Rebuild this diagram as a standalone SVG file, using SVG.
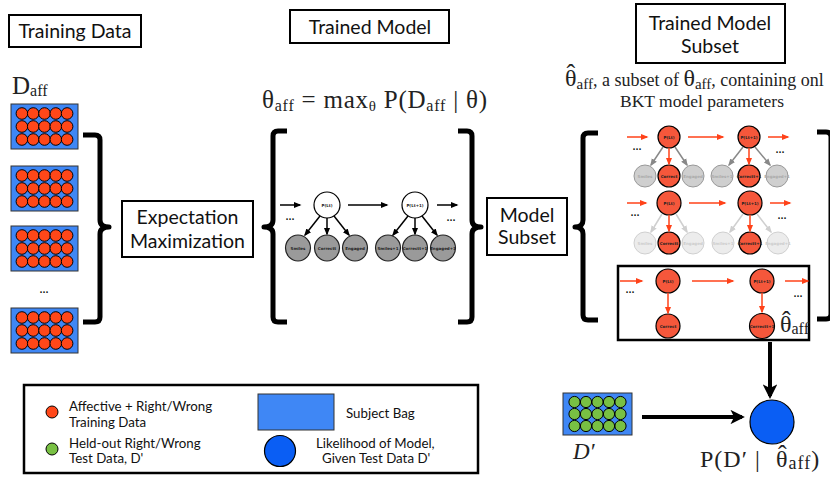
<svg xmlns="http://www.w3.org/2000/svg" width="830" height="478" viewBox="0 0 830 478">
<defs>
<style>
.sans{font-family:Lato,"Open Sans","DejaVu Sans",sans-serif;fill:#111}
.serif{font-family:"Liberation Serif","DejaVu Serif",serif;fill:#222}
.box{fill:#fff;stroke:#000;stroke-width:2}
.brace{fill:none;stroke:#000;stroke-width:5;stroke-linejoin:round}
.bag{fill:#3f87f5;stroke:#333;stroke-width:1}
.rc{fill:#ff4719;stroke:#000;stroke-width:1}
.gc{fill:#78c043;stroke:#000;stroke-width:1}
.rn{fill:#f5573b;stroke:#000;stroke-width:1.2}
.wn{fill:#fff;stroke:#000;stroke-width:1.2}
.gn{fill:#9a9a9a;stroke:#222;stroke-width:1.2}
.g1{fill:#cfcfcf;stroke:#999;stroke-width:1}
.g2{fill:#ececec;stroke:#d0d0d0;stroke-width:1}
.ka{stroke:#000;stroke-width:1.5;fill:none;marker-end:url(#mk)}
.ra{stroke:#ff4219;stroke-width:1.5;fill:none;marker-end:url(#mr)}
.ga{stroke:#888;stroke-width:1.5;fill:none;marker-end:url(#mg)}
.la{stroke:#cfcfcf;stroke-width:1.5;fill:none;marker-end:url(#ml)}
.big{stroke:#000;stroke-width:4;fill:none;marker-end:url(#mK)}
.tiny{font-family:"DejaVu Sans",sans-serif;font-size:4px;font-weight:bold;text-anchor:middle;fill:#222}
.tg{fill:#aaa}
.tl{fill:#ccc}
.dots{font-family:"DejaVu Sans",sans-serif;font-size:8px;font-weight:bold;text-anchor:middle;fill:#111}
.h{font-size:19.5px;text-anchor:middle}
</style>
<marker id="mk" viewBox="0 0 10 10" refX="8" refY="5" markerWidth="5" markerHeight="5" orient="auto"><path d="M0,1 L10,5 L0,9z" fill="#000"/></marker>
<marker id="mr" viewBox="0 0 10 10" refX="8" refY="5" markerWidth="5" markerHeight="5" orient="auto"><path d="M0,1 L10,5 L0,9z" fill="#ff4219"/></marker>
<marker id="mg" viewBox="0 0 10 10" refX="8" refY="5" markerWidth="5" markerHeight="5" orient="auto"><path d="M0,1 L10,5 L0,9z" fill="#888"/></marker>
<marker id="ml" viewBox="0 0 10 10" refX="8" refY="5" markerWidth="5" markerHeight="5" orient="auto"><path d="M0,1 L10,5 L0,9z" fill="#cfcfcf"/></marker>
<marker id="mK" viewBox="0 0 10 10" refX="8" refY="5" markerWidth="3.6" markerHeight="3.6" orient="auto"><path d="M0,0 L10,5 L0,10 L2.5,5z" fill="#000"/></marker>
<g id="bagR">
<rect class="bag" width="67" height="45"/>
<g class="rc">
<circle cx="10.9" cy="9.5" r="5.8"/><circle cx="22.2" cy="9.5" r="5.8"/><circle cx="33.5" cy="9.5" r="5.8"/><circle cx="44.8" cy="9.5" r="5.8"/><circle cx="56.1" cy="9.5" r="5.8"/>
<circle cx="10.9" cy="22.5" r="5.8"/><circle cx="22.2" cy="22.5" r="5.8"/><circle cx="33.5" cy="22.5" r="5.8"/><circle cx="44.8" cy="22.5" r="5.8"/><circle cx="56.1" cy="22.5" r="5.8"/>
<circle cx="10.9" cy="35.5" r="5.8"/><circle cx="22.2" cy="35.5" r="5.8"/><circle cx="33.5" cy="35.5" r="5.8"/><circle cx="44.8" cy="35.5" r="5.8"/><circle cx="56.1" cy="35.5" r="5.8"/>
</g>
</g>
</defs>
<rect width="830" height="478" fill="#fff"/>

<!-- Titles -->
<g id="title-training">
<rect class="box" x="9" y="15" width="132" height="32"/>
<text class="sans h" x="75" y="37.5">Training Data</text>
</g>
<g id="title-trained">
<rect class="box" x="290" y="10" width="159" height="33"/>
<text class="sans h" x="370" y="34">Trained Model</text>
</g>
<g id="title-subset">
<rect class="box" x="636" y="4" width="149" height="59"/>
<text class="sans h" x="710" y="30">Trained Model</text>
<text class="sans h" x="710" y="53">Subset</text>
</g>

<!-- Training data -->
<g id="daff">
<text class="serif" x="12" y="94" font-size="25">D<tspan font-size="16" dy="2">aff</tspan></text>
<use href="#bagR" x="11" y="104"/>
<use href="#bagR" x="11" y="166"/>
<use href="#bagR" x="11" y="226"/>
<text class="dots" x="44" y="293" font-size="11">...</text>
<use href="#bagR" x="11" y="308"/>
</g>

<!-- Braces -->
<g id="braces">
<path class="brace" d="M83,135 H95 Q100,135 100,140 V220 Q100,227 109,227 Q100,227 100,234 V317 Q100,322 95,322 H83"/>
<path class="brace" d="M287,131 H278 Q273,131 273,136 V220 Q273,227 264,227 Q273,227 273,234 V317 Q273,322 278,322 H287"/>
<path class="brace" d="M458,131 H467 Q472,131 472,136 V220 Q472,227 481,227 Q472,227 472,234 V317 Q472,322 467,322 H458"/>
<path class="brace" d="M598,133 H588 Q583,133 583,138 V220 Q583,227 575,227 Q583,227 583,234 V315 Q583,320 588,320 H598"/>
<path class="brace" d="M817,132 H826 Q831,132 831,137 V314 Q831,319 826,319 H817"/>
</g>

<g id="em">
<rect class="box" x="122" y="201" width="131" height="56"/>
<text class="sans h" x="187.5" y="223.5">Expectation</text>
<text class="sans h" x="187.5" y="248">Maximization</text>
</g>

<g id="formula">
<text class="serif" x="262" y="108" font-size="25" textLength="225" lengthAdjust="spacing">θ<tspan font-size="16" dy="3">aff</tspan><tspan dy="-3"> = max</tspan><tspan font-size="15" dy="3">θ</tspan><tspan dy="-3"> P(D</tspan><tspan font-size="16" dy="3">aff</tspan><tspan dy="-3"> | θ)</tspan></text>
</g>

<!-- Middle full model -->
<g id="full-model">
<g id="fm-t"><circle class="wn" cx="327" cy="205" r="13"/><text class="tiny" x="327" y="206.5">P(Lt)</text></g>
<g id="fm-t1"><circle class="wn" cx="415" cy="205" r="13"/><text class="tiny" x="415" y="206.5">P(Lt+1)</text></g>
<g id="fm-b">
<ellipse class="gn" cx="298" cy="248" rx="12.5" ry="13"/><text class="tiny" x="298" y="249.5">Smiles</text>
<ellipse class="gn" cx="327" cy="248" rx="12.5" ry="13"/><text class="tiny" x="327" y="249.5">Correctt</text>
<ellipse class="gn" cx="355" cy="248" rx="12.5" ry="13"/><text class="tiny" x="355" y="249.5">Engaged</text>
<ellipse class="gn" cx="388" cy="248" rx="12.5" ry="13"/><text class="tiny" x="388" y="249.5">Smiles+1</text>
<ellipse class="gn" cx="415" cy="248" rx="12.5" ry="13"/><text class="tiny" x="415" y="249.5">Correctt+1</text>
<ellipse class="gn" cx="443" cy="248" rx="12.5" ry="13"/><text class="tiny" x="443" y="249.5">Engaged+1</text>
</g>
<text class="dots" x="290" y="220">...</text>
<text class="dots" x="451" y="221">...</text>
</g>

<g id="model-subset">
<rect class="box" x="487" y="198" width="80" height="57"/>
<text class="sans h" x="527" y="221.5">Model</text>
<text class="sans h" x="527" y="243.5">Subset</text>
</g>

<!-- Subtitle -->
<g id="subtitle">
<text class="serif" font-size="24"><tspan x="566.5" y="82" font-size="26">ˆ</tspan><tspan x="565" y="86">θ</tspan><tspan font-size="15" dy="3">aff</tspan><tspan font-size="18" dy="-3">, a subset of </tspan><tspan>θ</tspan><tspan font-size="15" dy="3">aff</tspan><tspan font-size="18" dy="-3">, containing onl</tspan></text>
<text class="serif" x="702" y="107" font-size="17.5" text-anchor="middle">BKT model parameters</text>
</g>

<!-- Right subset rows -->
<g id="row1">
<circle class="rn" cx="669" cy="137" r="11"/><text class="tiny" x="669" y="138.5">P(Lt)</text>
<circle class="rn" cx="749" cy="137" r="11"/><text class="tiny" x="749" y="138.5">P(Lt+1)</text>
<ellipse class="g1" cx="645" cy="176" rx="11" ry="11"/><text class="tiny tg" x="645" y="177.5">Smiles</text>
<circle class="rn" cx="669" cy="176" r="11"/><text class="tiny" x="669" y="177.5">Correct</text>
<ellipse class="g1" cx="693" cy="176" rx="11" ry="11"/><text class="tiny tg" x="693" y="177.5">Engaged</text>
<ellipse class="g1" cx="722" cy="176" rx="11" ry="11"/><text class="tiny tg" x="722" y="177.5">Smiles+1</text>
<circle class="rn" cx="749" cy="176" r="11"/><text class="tiny" x="749" y="177.5">Correctt+1</text>
<ellipse class="g1" cx="777" cy="176" rx="11" ry="11"/><text class="tiny tg" x="777" y="177.5">Engaged+1</text>
<text class="dots" x="637" y="150">...</text>
<text class="dots" x="780" y="153">...</text>
</g>
<g id="row2">
<circle class="rn" cx="669" cy="203" r="12"/><text class="tiny" x="669" y="204.5">P(Lt)</text>
<circle class="rn" cx="750" cy="203" r="12"/><text class="tiny" x="750" y="204.5">P(Lt+1)</text>
<ellipse class="g2" cx="645" cy="243" rx="11" ry="11"/><text class="tiny tl" x="645" y="244.5">Smiles</text>
<circle class="rn" cx="669" cy="243" r="11"/><text class="tiny" x="669" y="244.5">Correctt</text>
<ellipse class="g2" cx="693" cy="243" rx="11" ry="11"/><text class="tiny tl" x="693" y="244.5">Engaged</text>
<ellipse class="g2" cx="723" cy="243" rx="11" ry="11"/><text class="tiny tl" x="723" y="244.5">Smiles+1</text>
<circle class="rn" cx="750" cy="243" r="11"/><text class="tiny" x="750" y="244.5">Correctt+1</text>
<ellipse class="g2" cx="778" cy="243" rx="11" ry="11"/><text class="tiny tl" x="778" y="244.5">Engaged+1</text>
<text class="dots" x="635" y="216">...</text>
<text class="dots" x="782" y="219">...</text>
</g>
<g id="row3">
<rect x="618" y="266" width="191" height="74" fill="none" stroke="#000" stroke-width="2.5"/>
<circle class="rn" cx="668" cy="281" r="12"/><text class="tiny" x="668" y="282.5">P(Lt)</text>
<circle class="rn" cx="762" cy="281" r="12"/><text class="tiny" x="762" y="282.5">P(Lt+1)</text>
<circle class="rn" cx="668" cy="326" r="12"/><text class="tiny" x="668" y="327.5">Correct</text>
<circle class="rn" cx="762" cy="326" r="12.5"/><text class="tiny" x="762" y="327.5">Correctt+1</text>
<text class="dots" x="630" y="293">...</text>
<text class="dots" x="798" y="297">...</text>
<text class="serif" font-size="24"><tspan x="782" y="329" font-size="26">ˆ</tspan><tspan x="780" y="332">θ</tspan><tspan font-size="16" dy="2">aff</tspan></text>
</g>

<!-- Test data & likelihood -->
<g id="dprime">
<rect class="bag" x="563" y="393" width="69" height="42"/>
<g class="gc">
<circle cx="574.5" cy="402" r="5.6"/><circle cx="586" cy="402" r="5.6"/><circle cx="597.5" cy="402" r="5.6"/><circle cx="609" cy="402" r="5.6"/><circle cx="620.5" cy="402" r="5.6"/>
<circle cx="574.5" cy="414" r="5.6"/><circle cx="586" cy="414" r="5.6"/><circle cx="597.5" cy="414" r="5.6"/><circle cx="609" cy="414" r="5.6"/><circle cx="620.5" cy="414" r="5.6"/>
<circle cx="574.5" cy="426" r="5.6"/><circle cx="586" cy="426" r="5.6"/><circle cx="597.5" cy="426" r="5.6"/><circle cx="609" cy="426" r="5.6"/><circle cx="620.5" cy="426" r="5.6"/>
</g>
<text class="serif" x="573" y="459" font-size="23" font-style="italic">D′</text>
</g>
<g id="likelihood">
<circle cx="772" cy="422" r="22" fill="#0a5ef4" stroke="#000" stroke-width="1.2"/>
<text class="serif" font-size="24" letter-spacing="1"><tspan x="700" y="467">P(D′ |</tspan><tspan x="778" y="463" font-size="26">ˆ</tspan><tspan x="776" y="467">θ</tspan><tspan font-size="18" dy="2">aff</tspan><tspan dy="-2">)</tspan></text>
</g>

<!-- Connectors -->
<g id="connectors">
<line class="ka" x1="280" y1="205" x2="300" y2="205"/>
<line class="ka" x1="348" y1="205" x2="387" y2="205"/>
<line class="ka" x1="437" y1="205" x2="457" y2="205"/>
<line class="ka" x1="320" y1="216" x2="305" y2="235"/>
<line class="ka" x1="327" y1="218" x2="327" y2="234"/>
<line class="ka" x1="334" y1="216" x2="349" y2="235"/>
<line class="ka" x1="408" y1="216" x2="393" y2="235"/>
<line class="ka" x1="415" y1="218" x2="415" y2="234"/>
<line class="ka" x1="422" y1="216" x2="437" y2="235"/>

<line class="ra" x1="627" y1="137" x2="647" y2="137"/>
<line class="ra" x1="688" y1="137" x2="723" y2="137"/>
<line class="ra" x1="768" y1="137" x2="788" y2="137"/>
<line class="ga" x1="663" y1="147" x2="651" y2="165"/>
<line class="ra" x1="669" y1="148" x2="669" y2="164"/>
<line class="ga" x1="675" y1="147" x2="687" y2="165"/>
<line class="ga" x1="743" y1="147" x2="729" y2="165"/>
<line class="ra" x1="749" y1="148" x2="749" y2="164"/>
<line class="ga" x1="755" y1="147" x2="770" y2="165"/>

<line class="ra" x1="627" y1="203" x2="646" y2="203"/>
<line class="ra" x1="689" y1="203" x2="725" y2="203"/>
<line class="ra" x1="770" y1="203" x2="790" y2="203"/>
<line class="la" x1="662" y1="214" x2="651" y2="232"/>
<line class="ra" x1="669" y1="215" x2="669" y2="231"/>
<line class="la" x1="676" y1="214" x2="687" y2="232"/>
<line class="la" x1="743" y1="214" x2="730" y2="232"/>
<line class="ra" x1="750" y1="215" x2="750" y2="231"/>
<line class="la" x1="757" y1="214" x2="771" y2="232"/>

<line class="ra" x1="620" y1="281" x2="642" y2="281"/>
<line class="ra" x1="692" y1="281" x2="733" y2="281"/>
<line class="ra" x1="785" y1="281" x2="808" y2="281"/>
<line class="ra" x1="668" y1="293" x2="668" y2="313"/>
<line class="ra" x1="762" y1="293" x2="762" y2="312"/>

<line class="big" x1="770" y1="342" x2="770" y2="396"/>
<line class="big" x1="642" y1="417" x2="742" y2="417"/>
</g>

<!-- Legend -->
<g id="legend">
<rect x="24" y="385" width="454" height="88" fill="#fff" stroke="#000" stroke-width="2.5"/>
<circle class="rc" cx="52" cy="412" r="6"/>
<text class="sans" x="69" y="410.5" font-size="13.3">Affective + Right/Wrong</text>
<text class="sans" x="69" y="426.5" font-size="13.3">Training Data</text>
<circle class="gc" cx="52" cy="449" r="6"/>
<text class="sans" x="69" y="447.5" font-size="13.3">Held-out Right/Wrong</text>
<text class="sans" x="69" y="463" font-size="13.3">Test Data, D'</text>
<rect class="bag" x="258" y="394" width="76" height="36" fill="#4287f0"/>
<text class="sans" x="346" y="417.5" font-size="13.3">Subject Bag</text>
<circle cx="280" cy="451" r="15.5" fill="#0a5ef4" stroke="#000" stroke-width="1.2"/>
<text class="sans" x="316" y="447.5" font-size="13.3">Likelihood of Model,</text>
<text class="sans" x="322" y="463" font-size="13.3">Given Test Data D'</text>
</g>
</svg>
